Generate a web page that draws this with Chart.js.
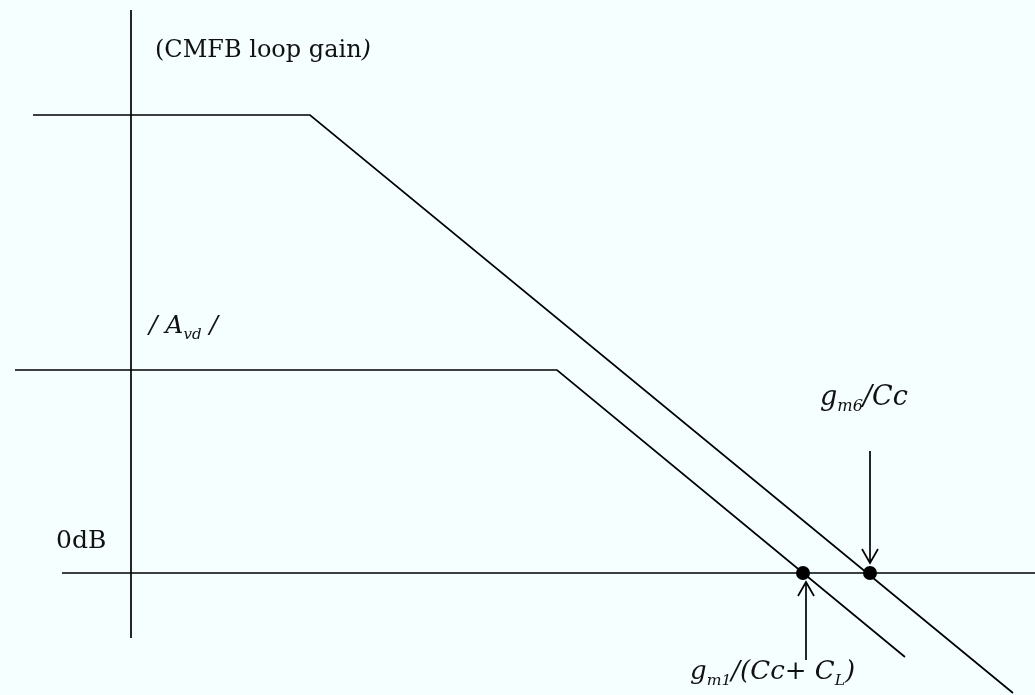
<!DOCTYPE html>
<html>
<head>
<meta charset="utf-8">
<script src="https://cdn.jsdelivr.net/npm/chart.js@4"></script>
<style>
  html, body { margin: 0; padding: 0; background: #f5ffff; }
  #wrap { width: 1035px; height: 695px; }
</style>
</head>
<body>
<div id="wrap"><canvas id="bode" width="1035" height="695"></canvas></div>
<script>
// asymptotic Bode sketch, x = frequency axis (arbitrary units), y = gain (arbitrary units, 0 = 0dB)
const cmfbGain = [
  { x: 33, y: 458 },
  { x: 310, y: 458 },
  { x: 1013, y: -120 },
];
const avdGain = [
  { x: 15, y: 203 },
  { x: 557, y: 203 },
  { x: 905, y: -84 },
];
const zeroDb = [
  { x: 62, y: 0 },
  { x: 1035, y: 0 },
];
const gainAxis = [
  { x: 131, y: 563 },
  { x: 131, y: -65 },
];
const crossings = [
  { x: 803, y: 0 },
  { x: 870, y: 0 },
];
const arrowDown = [
  { x: 870, y: 122 },
  { x: 870, y: 10 },
];
const arrowDownHead = [
  { x: 862, y: 24 },
  { x: 870, y: 10 },
  { x: 878, y: 24 },
];
const arrowUp = [
  { x: 806, y: -87 },
  { x: 806, y: -9 },
];
const arrowUpHead = [
  { x: 798, y: -23 },
  { x: 806, y: -9 },
  { x: 814, y: -23 },
];

// text labels: parts are [text, kind] where kind is "n" normal, "i" italic, "s" italic subscript
const labels = [
  { x: 155, y: 516, size: 24, parts: [["(CMFB loop gain", "n"], [")", "i"]] },
  { x: 56, y: 25, size: 25, parts: [["0dB", "n"]] },
  { x: 149, y: 240, size: 25, parts: [["/ A", "i"], ["vd", "s"], [" /", "i"]] },
  { x: 820, y: 168, size: 27, parts: [["g", "i"], ["m6", "s"], ["/Cc", "i"]] },
  { x: 690, y: -106, size: 26, parts: [["g", "i"], ["m1", "s"], ["/(Cc+ C", "i"], ["L", "s"], [")", "i"]] },
];

const ink = "#000000";
const lineSet = (data, w) => ({
  data: data,
  borderColor: ink,
  borderWidth: w || 1.7,
  pointRadius: 0,
  fill: false,
  tension: 0,
});

const textPlugin = {
  id: "sketchText",
  afterDatasetsDraw(chart) {
    const ctx = chart.ctx;
    const xs = chart.scales.x;
    const ys = chart.scales.y;
    ctx.save();
    ctx.fillStyle = "#111";
    ctx.textBaseline = "alphabetic";
    labels.forEach((lb) => {
      let px = xs.getPixelForValue(lb.x);
      const py = ys.getPixelForValue(lb.y);
      lb.parts.forEach(([t, kind]) => {
        const sub = kind === "s";
        const sz = sub ? lb.size * 0.6 : lb.size;
        ctx.font = (kind === "n" ? "" : "italic ") + sz + "px 'DejaVu Serif', 'Liberation Serif', serif";
        ctx.fillText(t, px, sub ? py + lb.size * 0.22 : py);
        px += ctx.measureText(t).width;
      });
    });
    ctx.restore();
  },
};

new Chart(document.getElementById("bode").getContext("2d"), {
  type: "line",
  data: {
    datasets: [
      lineSet(cmfbGain),
      lineSet(avdGain),
      lineSet(zeroDb),
      lineSet(gainAxis),
      lineSet(arrowDown),
      lineSet(arrowDownHead),
      lineSet(arrowUp),
      lineSet(arrowUpHead),
      {
        data: crossings,
        showLine: false,
        pointRadius: 7,
        pointBackgroundColor: ink,
        pointBorderColor: ink,
        borderWidth: 0,
      },
    ],
  },
  options: {
    responsive: false,
    animation: false,
    layout: { padding: 0, autoPadding: false },
    scales: {
      x: { type: "linear", min: 0, max: 1035, display: false },
      y: { type: "linear", min: -122, max: 573, display: false },
    },
    plugins: {
      legend: { display: false },
      tooltip: { enabled: false },
      title: { display: false },
    },
  },
  plugins: [textPlugin],
});
</script>
</body>
</html>
